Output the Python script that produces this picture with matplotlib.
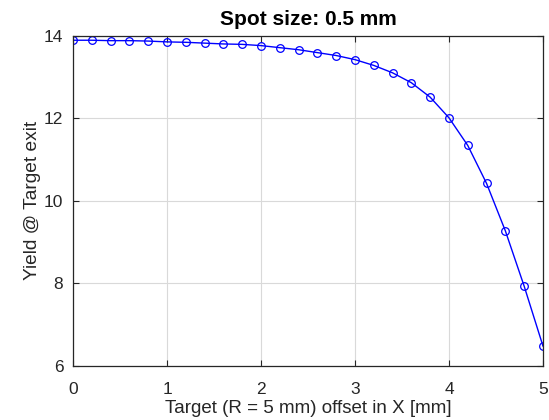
import matplotlib
matplotlib.use("Agg")
import matplotlib.pyplot as plt

plt.rcParams['font.family'] = ['Liberation Sans', 'DejaVu Sans']

offset_mm = [0.0, 0.2, 0.4, 0.6, 0.8, 1.0, 1.2, 1.4, 1.6, 1.8, 2.0, 2.2, 2.4,
             2.6, 2.8, 3.0, 3.2, 3.4, 3.6, 3.8, 4.0, 4.2, 4.4, 4.6, 4.8, 5.0]
yield_exit = [13.89, 13.89, 13.88, 13.88, 13.87, 13.85, 13.84, 13.82, 13.80,
              13.79, 13.76, 13.71, 13.66, 13.59, 13.52, 13.42, 13.28, 13.10,
              12.86, 12.51, 12.01, 11.34, 10.42, 9.27, 7.93, 6.48]

fig = plt.figure(figsize=(5.49, 4.2), dpi=100)
ax = fig.add_axes([0.133, 0.129, 0.856, 0.786])

ax.plot(offset_mm, yield_exit, '-o', color='#0000ff', lw=1.0,
        markersize=5.5, markerfacecolor='none', markeredgewidth=0.9)

ax.set_xlim(0, 5)
ax.set_ylim(6, 14)
ax.set_xticks([0, 1, 2, 3, 4, 5])
ax.set_yticks([6, 8, 10, 12, 14])
ax.grid(True, color='#d9d9d9', lw=0.8)
ax.set_axisbelow(True)
ax.tick_params(direction='in', top=True, right=True, labelsize=12.5,
               length=4, color='#262626', labelcolor='#262626')
ax.tick_params(axis='x', pad=12)
ax.tick_params(axis='y', pad=7)
for s in ax.spines.values():
    s.set_color('#262626')
    s.set_linewidth(0.9)

ax.set_xlabel('Target (R = 5 mm) offset in X [mm]', fontsize=13.5,
              color='#262626', labelpad=2)
ax.set_ylabel('Yield @ Target exit', fontsize=13.8, color='#262626',
              labelpad=2)
ax.set_title('Spot size: 0.5 mm', fontsize=15, fontweight='bold', pad=8)

fig.savefig('out.png', dpi=100)
